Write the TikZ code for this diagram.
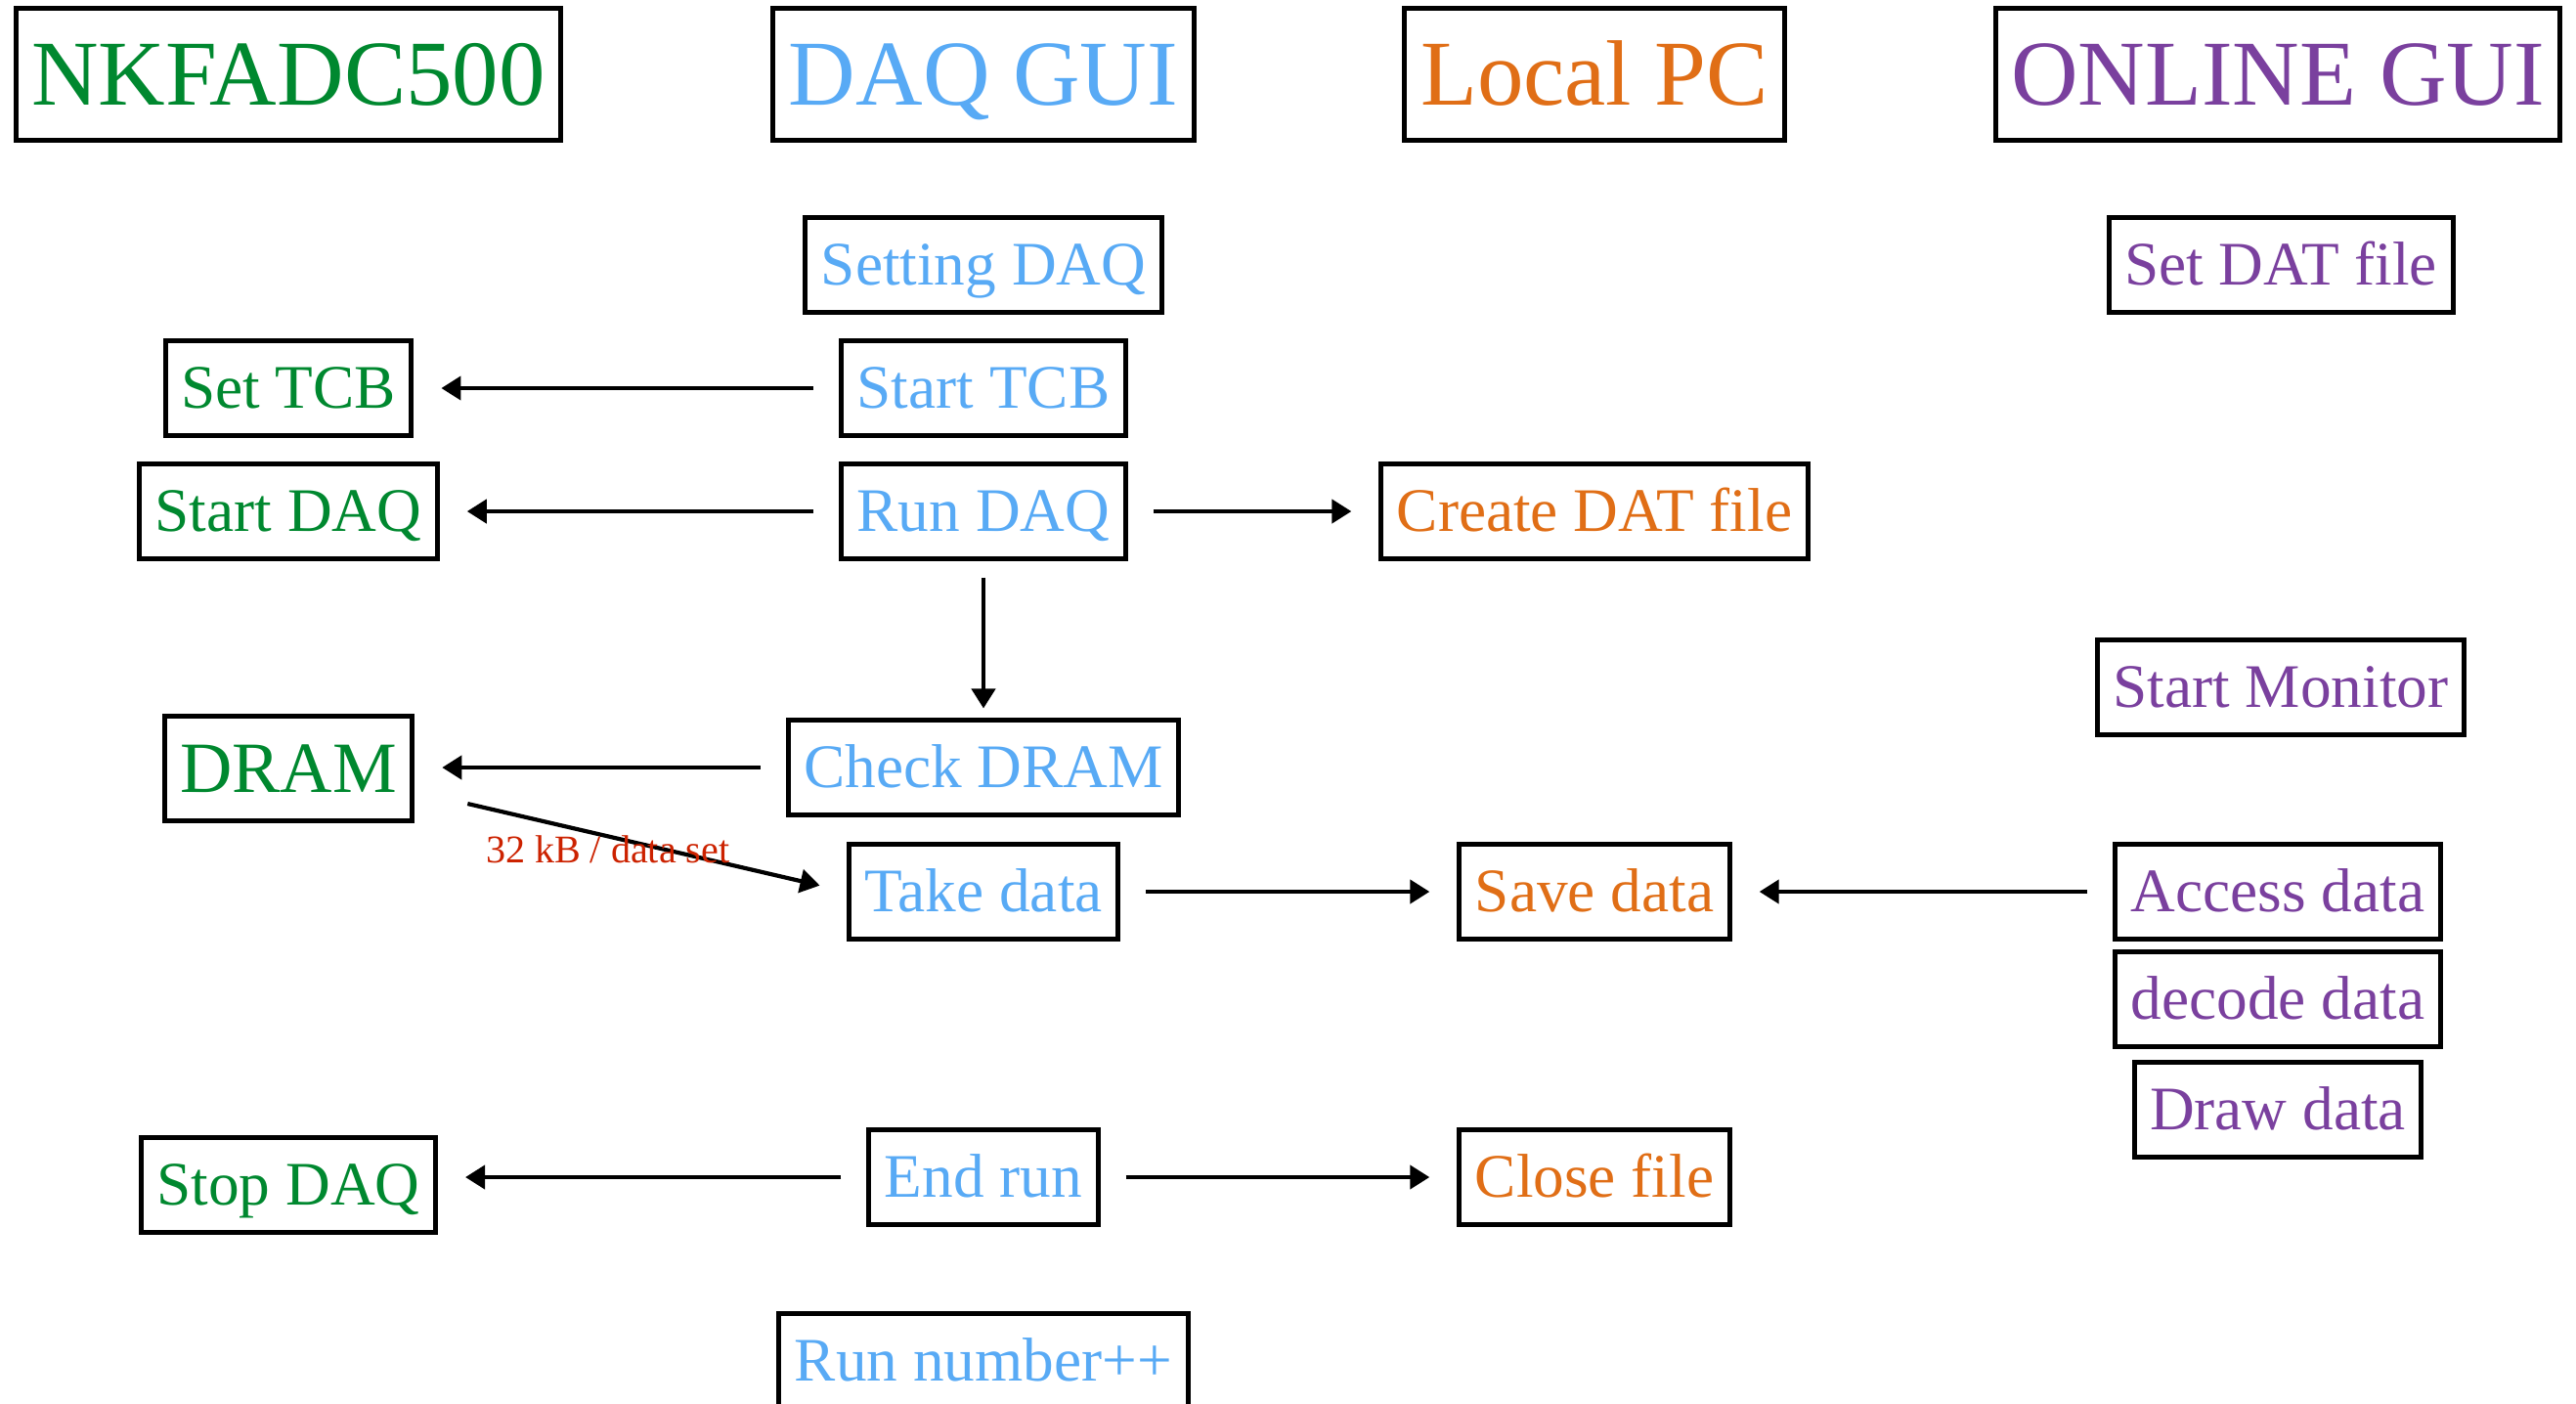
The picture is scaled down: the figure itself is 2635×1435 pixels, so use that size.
\documentclass[tikz,border=0pt]{standalone}
\usepackage{fontspec}
\setmainfont{Liberation Serif}
\usepackage{tikz}
\usetikzlibrary{arrows.meta}

\definecolor{adcgreen}{RGB}{0,136,47}
\definecolor{guiblue}{RGB}{88,170,245}
\definecolor{pcorange}{RGB}{224,110,22}
\definecolor{onlpurple}{RGB}{122,64,158}
\definecolor{ratered}{RGB}{204,34,0}

\tikzset{
  box/.style={draw=black, line width=0.05cm, inner xsep=0.16cm, minimum height=0.96cm,
    text height=11.9pt, text depth=0pt, font=\fontsize{18}{20}\selectfont},
  head/.style={box, minimum height=1.35cm, text height=17.8pt, font=\fontsize{27}{30}\selectfont},
  flow/.style={-{Triangle[length=0.2cm,width=0.24cm]}, line width=0.042cm,
    shorten <=0.26cm, shorten >=0.28cm},
}

\begin{document}
\begin{tikzpicture}[x=0.01cm,y=-0.01cm]
   \useasboundingbox (0,0) rectangle (2635,1435);

   % column heads
   \draw (295,76) node[head,text=adcgreen] (adc) {NKFADC500};
   \draw (1006,76) node[head,text=guiblue] (gui) {DAQ GUI};
   \draw (1631,76) node[head,text=pcorange] (pc) {Local PC};
   \draw (2330,76) node[head,text=onlpurple] (online) {ONLINE GUI};

   % NKFADC500
   \draw (295,397) node[box,text=adcgreen] (settcb) {Set TCB};
   \draw (295,523) node[box,text=adcgreen] (startdaq) {Start DAQ};
   \draw (295,786) node[box,text=adcgreen,minimum height=1.06cm,text height=13.9pt,font=\fontsize{21}{24}\selectfont] (dram) {DRAM};
   \draw (295,1212) node[box,text=adcgreen] (stopdaq) {Stop DAQ};

   % DAQ GUI
   \draw (1006,271) node[box,text=guiblue] (setting) {Setting DAQ};
   \draw (1006,397) node[box,text=guiblue] (starttcb) {Start TCB};
   \draw (1006,523) node[box,text=guiblue] (rundaq) {Run DAQ};
   \draw (1006,785) node[box,text=guiblue] (check) {Check DRAM};
   \draw (1006,912) node[box,text=guiblue] (take) {Take data};
   \draw (1006,1204) node[box,text=guiblue] (endrun) {End run};
   \draw (1006,1392) node[box,text=guiblue] (runnum) {Run number++};

   % Local PC
   \draw (1631,523) node[box,text=pcorange] (create) {Create DAT file};
   \draw (1631,912) node[box,text=pcorange] (save) {Save data};
   \draw (1631,1204) node[box,text=pcorange] (close) {Close file};

   % ONLINE GUI
   \draw (2333,271) node[box,text=onlpurple] (setdat) {Set DAT file};
   \draw (2333,703) node[box,text=onlpurple] (monitor) {Start Monitor};
   \draw (2330,912) node[box,text=onlpurple] (access) {Access data};
   \draw (2330,1022) node[box,text=onlpurple] (decode) {decode data};
   \draw (2330,1135) node[box,text=onlpurple] (drawdata) {Draw data};

   \path[flow] (starttcb.west) edge (starttcb.west -| settcb.east);
   \path[flow] (rundaq.west) edge (rundaq.west -| startdaq.east);
   \path[flow] (rundaq.east) edge (rundaq.east -| create.west);
   \path[flow,shorten <=0.17cm,shorten >=0.1cm] (rundaq) edge (check);
   \path[flow] (check.west) edge (check.west -| dram.east);
   \path[flow] (take.east) edge (take.east -| save.west);
   \path[flow] (access.west) edge (access.west -| save.east);
   \path[flow] (endrun.west) edge (endrun.west -| stopdaq.east);
   \path[flow] (endrun.east) edge (endrun.east -| close.west);
   \draw[flow,shorten <=0pt] ([xshift=0.54cm,yshift=-0.36cm]dram.east) -- (take.west)
      node[pos=0.37,yshift=-0.13cm,text=ratered,font=\fontsize{11.4}{13}\selectfont] (rate) {32 kB / data set};

\end{tikzpicture}
\end{document}
